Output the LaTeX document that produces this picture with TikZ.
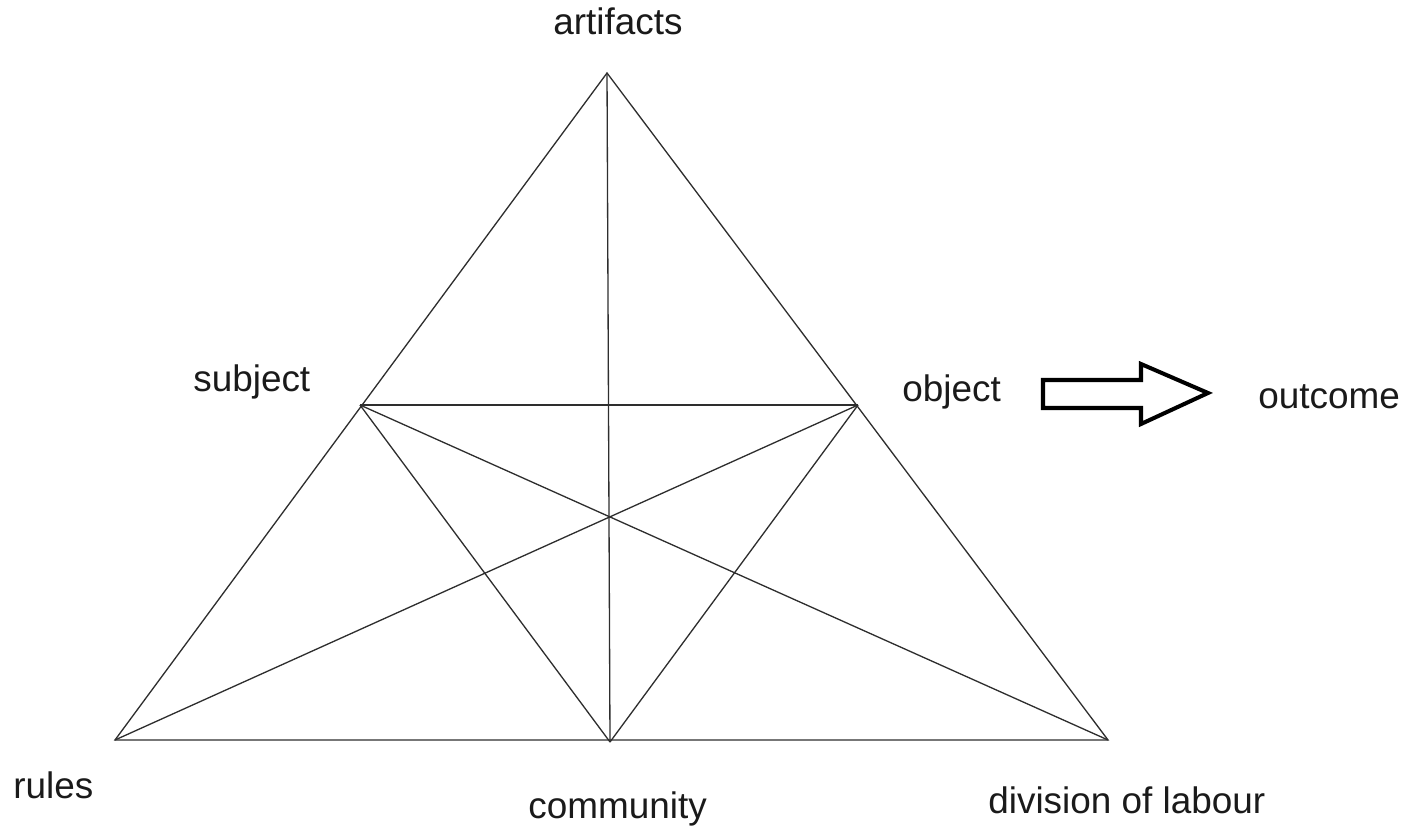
\documentclass[tikz,border=0pt]{standalone}
\usepackage{fontspec}
\setmainfont{Liberation Sans}
\usetikzlibrary{positioning}
\definecolor{ink}{HTML}{1A1A1A}
\definecolor{edge}{HTML}{2E2E2E}
\tikzset{
  lab/.style={font=\fontsize{21}{24}\selectfont, text=ink, inner sep=0pt, anchor=base west},
  side/.style={draw=edge, line width=0.75pt},
  fatarr/.style={draw=black, line width=2.3pt, fill=white, line join=miter},
}

\begin{document}
\begin{tikzpicture}[x=0.02cm, y=-0.02cm]
    \useasboundingbox (0,0) rectangle (1409,830);
    % corners of the triangle
    \coordinate (art) at (607,73);
    \coordinate (sub) at (360,405);
    \coordinate (obj) at (858,405);
    \coordinate (rul) at (115,740);
    \coordinate (com) at (610,742);
    \coordinate (div) at (1108,740);
    % labels
    \node[lab] (artl) at (553,35) {artifacts};
    \node[lab] (subl) at (193,392) {subject};
    \node[lab] (objl) at (902,402) {object};
    \node[lab] (outl) at (1258,409) {outcome};
    \node[lab] (rull) at (13,798) {rules};
    \node[lab] (coml) at (528,818) {community};
    \node[lab] (divl) at (988,813) {division of labour};
    % sides and inner lines
    \draw[side] (art) -- (rul) -- (div) -- cycle;
    \draw[side] (sub) -- (obj);
    \draw[side] (art) -- (com);
    \draw[side] (sub) -- (com); \draw[side] (obj) -- (com);
    \draw[side] (sub) -- (div); \draw[side] (obj) -- (rul);
    % object to outcome
    \draw[fatarr] (1043,380) -- (1141,380) -- (1141,364) -- (1208,393)
      -- (1141,424) -- (1141,408) -- (1043,408) -- cycle;
\end{tikzpicture}
\end{document}
